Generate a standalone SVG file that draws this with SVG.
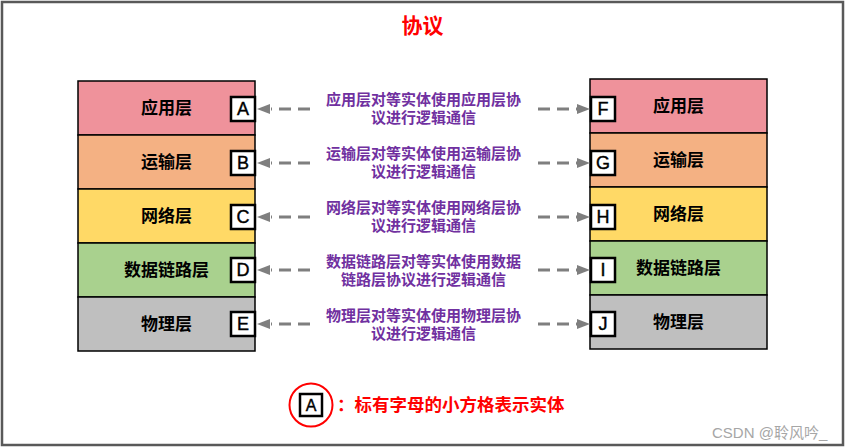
<svg xmlns="http://www.w3.org/2000/svg" width="845" height="448" viewBox="0 0 845 448">
<style>
.frame{fill:#fff;stroke:#595959;stroke-width:2.5}
.layer{stroke:#000;stroke-width:1.5}
.ent{fill:#fff;stroke:#000;stroke-width:2.5}
.lbl{font-family:"Liberation Sans","Noto Sans CJK SC",sans-serif;font-size:17px;font-weight:bold;fill:#000;text-anchor:middle;dominant-baseline:central}
.let{font-family:"Liberation Sans",Arial,sans-serif;font-size:18px;fill:#000;stroke:#000;stroke-width:0.4;text-anchor:middle;dominant-baseline:central}
.desc{font-family:"Liberation Sans","Noto Sans CJK SC",sans-serif;font-size:15px;font-weight:bold;fill:#7030A0;text-anchor:middle}
.conn{stroke:#7F7F7F;stroke-width:3;stroke-dasharray:12 7;fill:none}
.head{fill:#7F7F7F}
.red{font-family:"Liberation Sans","Noto Sans CJK SC",sans-serif;font-weight:bold;fill:#FF0000}
</style>
<rect class="frame" x="2" y="2" width="841" height="443"/>
<text class="red" x="422.5" y="33" font-size="21" text-anchor="middle">协议</text>

<g id="left-stack">
<g id="L1"><rect class="layer" x="78" y="81" width="177" height="54" fill="#EF929B"/><text class="lbl" x="166.5" y="108">应用层</text></g>
<g id="L2"><rect class="layer" x="78" y="135" width="177" height="54" fill="#F4B183"/><text class="lbl" x="166.5" y="162">运输层</text></g>
<g id="L3"><rect class="layer" x="78" y="189" width="177" height="54" fill="#FFD966"/><text class="lbl" x="166.5" y="216">网络层</text></g>
<g id="L4"><rect class="layer" x="78" y="243" width="177" height="54" fill="#A9D18E"/><text class="lbl" x="166.5" y="270">数据链路层</text></g>
<g id="L5"><rect class="layer" x="78" y="297" width="177" height="54" fill="#BFBFBF"/><text class="lbl" x="166.5" y="324">物理层</text></g>
</g>
<g id="right-stack">
<g id="R1"><rect class="layer" x="590" y="79" width="177" height="54" fill="#EF929B"/><text class="lbl" x="678.5" y="106">应用层</text></g>
<g id="R2"><rect class="layer" x="590" y="133" width="177" height="54" fill="#F4B183"/><text class="lbl" x="678.5" y="160">运输层</text></g>
<g id="R3"><rect class="layer" x="590" y="187" width="177" height="54" fill="#FFD966"/><text class="lbl" x="678.5" y="214">网络层</text></g>
<g id="R4"><rect class="layer" x="590" y="241" width="177" height="54" fill="#A9D18E"/><text class="lbl" x="678.5" y="268">数据链路层</text></g>
<g id="R5"><rect class="layer" x="590" y="295" width="177" height="54" fill="#BFBFBF"/><text class="lbl" x="678.5" y="322">物理层</text></g>
</g>

<g id="A"><rect class="ent" x="231" y="97" width="24" height="24"/><text class="let" x="243" y="109">A</text></g>
<g id="B"><rect class="ent" x="231" y="151" width="24" height="24"/><text class="let" x="243" y="163">B</text></g>
<g id="C"><rect class="ent" x="231" y="205" width="24" height="24"/><text class="let" x="243" y="217">C</text></g>
<g id="D"><rect class="ent" x="231" y="258" width="24" height="24"/><text class="let" x="243" y="270">D</text></g>
<g id="E"><rect class="ent" x="231" y="312" width="24" height="24"/><text class="let" x="243" y="324">E</text></g>
<g id="F"><rect class="ent" x="591" y="97" width="24" height="24"/><text class="let" x="603" y="109">F</text></g>
<g id="G"><rect class="ent" x="591" y="151" width="24" height="24"/><text class="let" x="603" y="163">G</text></g>
<g id="H"><rect class="ent" x="591" y="205" width="24" height="24"/><text class="let" x="603" y="217">H</text></g>
<g id="I"><rect class="ent" x="591" y="258" width="24" height="24"/><text class="let" x="603" y="270">I</text></g>
<g id="J"><rect class="ent" x="591" y="312" width="24" height="24"/><text class="let" x="603" y="324">J</text></g>

<g id="connectors">
<g transform="translate(0,109)">
<path class="conn" d="M310 0H271"/><path class="head" d="M257 0l13 -5v10z"/>
<path class="conn" d="M538 0H577"/><path class="head" d="M590 0l-13 -5v10z"/>
</g>
<g transform="translate(0,163)">
<path class="conn" d="M310 0H271"/><path class="head" d="M257 0l13 -5v10z"/>
<path class="conn" d="M538 0H577"/><path class="head" d="M590 0l-13 -5v10z"/>
</g>
<g transform="translate(0,217)">
<path class="conn" d="M310 0H271"/><path class="head" d="M257 0l13 -5v10z"/>
<path class="conn" d="M538 0H577"/><path class="head" d="M590 0l-13 -5v10z"/>
</g>
<g transform="translate(0,270)">
<path class="conn" d="M310 0H271"/><path class="head" d="M257 0l13 -5v10z"/>
<path class="conn" d="M538 0H577"/><path class="head" d="M590 0l-13 -5v10z"/>
</g>
<g transform="translate(0,324)">
<path class="conn" d="M310 0H271"/><path class="head" d="M257 0l13 -5v10z"/>
<path class="conn" d="M538 0H577"/><path class="head" d="M590 0l-13 -5v10z"/>
</g>
</g>

<g id="labels">
<text class="desc" x="423.5" y="105">应用层对等实体使用应用层协</text>
<text class="desc" x="423.5" y="123">议进行逻辑通信</text>
<text class="desc" x="423.5" y="159">运输层对等实体使用运输层协</text>
<text class="desc" x="423.5" y="177">议进行逻辑通信</text>
<text class="desc" x="423.5" y="213">网络层对等实体使用网络层协</text>
<text class="desc" x="423.5" y="231">议进行逻辑通信</text>
<text class="desc" x="423.5" y="267">数据链路层对等实体使用数据</text>
<text class="desc" x="423.5" y="285">链路层协议进行逻辑通信</text>
<text class="desc" x="423.5" y="321">物理层对等实体使用物理层协</text>
<text class="desc" x="423.5" y="339">议进行逻辑通信</text>
</g>

<g id="legend">
<circle cx="311" cy="405" r="21.5" fill="none" stroke="#FF0000" stroke-width="2"/>
<rect class="ent" x="300" y="394" width="22" height="22" stroke-width="2"/>
<text class="let" x="311" y="405" font-size="16" style="font-size:16px">A</text>
<text class="red" x="337" y="411" font-size="17.5">：标有字母的小方格表示实体</text>
</g>

<text x="712" y="438" font-family="Liberation Sans,Noto Sans CJK SC,sans-serif" font-size="15" fill="#A6A6A6">CSDN @聆风吟_</text>
</svg>
